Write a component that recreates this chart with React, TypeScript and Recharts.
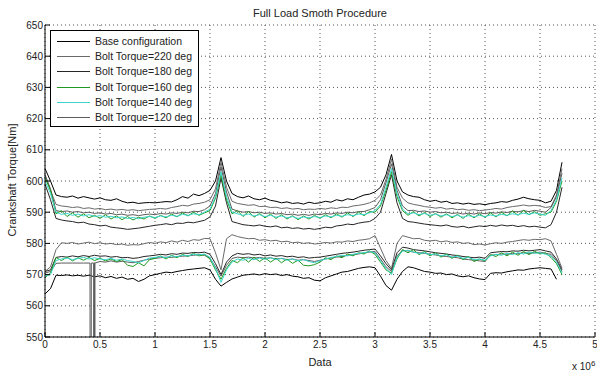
import React from 'react';
import { LineChart, Line, XAxis, YAxis, CartesianGrid } from 'recharts';

// sample positions (x 10^6)
const xs = [
  0, 0.05, 0.1, 0.15, 0.2, 0.25, 0.3, 0.35, 0.4, 0.45,
  0.5, 0.55, 0.6, 0.65, 0.7, 0.75, 0.8, 0.85, 0.9, 0.95,
  1, 1.05, 1.1, 1.15, 1.2, 1.25, 1.3, 1.35, 1.4, 1.45,
  1.5, 1.55, 1.6, 1.65, 1.7, 1.75, 1.8, 1.85, 1.9, 1.95,
  2, 2.05, 2.1, 2.15, 2.2, 2.25, 2.3, 2.35, 2.4, 2.45,
  2.5, 2.55, 2.6, 2.65, 2.7, 2.75, 2.8, 2.85, 2.9, 2.95,
  3, 3.05, 3.1, 3.15, 3.2, 3.25, 3.3, 3.35, 3.4, 3.45,
  3.5, 3.55, 3.6, 3.65, 3.7, 3.75, 3.8, 3.85, 3.9, 3.95,
  4, 4.05, 4.1, 4.15, 4.2, 4.25, 4.3, 4.35, 4.4, 4.45,
  4.5, 4.55, 4.6, 4.65, 4.7,
];

// Base configuration
const baseUpper = [
  604, 600, 595.5, 595, 594.8, 595.2, 594.5, 595, 594.6, 594.2,
  594.6, 594, 593.8, 594.3, 593.5, 593, 593.2, 592.8, 593, 593.1,
  593, 593.2, 593.4, 593.3, 594, 595, 594.5, 595.8, 595.3, 596,
  597, 600, 607.5, 600, 596, 595, 594.6, 595.2, 594.3, 594,
  594.5, 593.8, 593.5, 593, 593.3, 592.8, 593, 592.6, 593.2, 592.8,
  593, 593.5, 593.2, 594, 593.6, 594.3, 594, 594.8, 595.5, 595.8,
  596.5, 598, 602, 608.5, 600, 596.5, 595.5, 595, 594.8, 594,
  593.5, 593.8, 593.2, 593.5, 592.8, 593, 592.6, 592.9, 592.5, 592.7,
  592.4, 592.8, 593, 593.4, 593.2, 593.8, 594.2, 594.8, 594.3, 594,
  593.8, 593, 593.5, 597, 606,
];
const baseLower = [
  563.8, 565.5, 569.8, 569.7, 569.9, 569.6, 569.8, 569.5, 569.8, 569.3,
  569.6, 569, 569.4, 568.8, 569.2, 568.5, 568.8, 567.8, 568.5, 569.6,
  570, 570.4, 570.8, 570.6, 571, 571.3, 571.6, 571.8, 572, 572.2,
  571.5, 568.5, 566.3, 567.5, 568.6, 569.2, 569.8, 570, 570.2, 569.9,
  570.3, 570, 570.2, 569.7, 570, 569.5, 569.3, 568.8, 569, 568.2,
  568, 569, 569.6, 570.2, 570.8, 571, 571.5, 572, 572.3, 572.5,
  572.2, 569.5, 566.5, 565, 568.5, 571, 572.5, 572.2, 571.6, 571,
  570.8, 570.4, 570.5, 570, 570.2, 569.6, 569.3, 569.6, 569, 568.6,
  568.4, 570.4, 570.6, 570.5, 570.9, 571.2, 571.5, 571.4, 571.8, 572,
  572.2, 572, 571.8, 568.5, null,
];

// Bolt Torque=220 deg
const t220Upper = [
  602, 597, 592.5, 592, 591.8, 591.5, 591.7, 591.2, 591.4, 591,
  591.2, 590.8, 591, 590.7, 590.9, 590.6, 590.8, 590.5, 590.7, 590.9,
  591, 591.2, 591, 591.5, 591.8, 592.2, 592, 592.6, 592.8, 593.2,
  594, 597.5, 606, 598, 593.5, 592.8, 592.5, 592.2, 592.4, 591.8,
  591.9, 591.5, 591.6, 591.2, 591.4, 591, 591.2, 590.8, 591, 590.9,
  591.2, 591, 591.4, 591.2, 591.6, 591.5, 592, 592.2, 592.5, 593,
  593.8, 595.5, 600.5, 607, 598, 594.5, 593, 592.5, 592.2, 591.8,
  591.6, 591.3, 591.5, 591, 591.2, 590.8, 591, 590.6, 590.8, 590.5,
  590.7, 590.9, 591.2, 591, 591.5, 591.8, 592, 592.3, 592, 592.2,
  592, 591.5, 591.8, 595.5, 604,
];
const t220Lower = [
  571, 572.5, 578, 580.2, 580, 580.3, 579.8, 580.1, 580.4, 579.9,
  580.2, 579.8, 580, 579.6, 579.8, 579.4, 579.6, 579.5, 579.9, 580.3,
  580, 580.5, 580.2, 580.8, 580.4, 581, 580.6, 581.2, 581, 581.6,
  581.5, 577, 571.5, 581.5, 582.8, 582.2, 581.8, 581.5, 581.6, 581,
  581.2, 580.8, 581, 580.5, 580.7, 580.2, 580.4, 580, 580.2, 579.8,
  580, 580.3, 580.1, 580.5, 580.4, 580.8, 580.6, 581, 581.2, 581.5,
  582.5, 578.5, 574.5, 572, 580, 582.5, 582, 581.5, 581.6, 581,
  580.8, 581, 580.5, 580.8, 580.3, 580.5, 580, 580.2, 579.6, 579.8,
  579.5, 579.9, 580.2, 580, 580.4, 580.6, 580.9, 581.2, 581, 581.3,
  581.2, 581.5, 580.8, 576.5, 572,
];

// Bolt Torque=180 deg
const t180Upper = [
  599, 594, 588, 587.5, 587.2, 587, 586.6, 586.8, 586.2, 586,
  585.6, 585.8, 585.2, 585, 584.8, 584.5, 584.7, 584.9, 585.2, 585.5,
  585.8, 586, 586.3, 586, 586.5, 586.4, 586.8, 586.6, 587, 587.4,
  588.5, 592, 601, 593, 587, 586.5, 586, 585.8, 585.6, 585.9,
  585.5, 585.3, 585.6, 585, 585.2, 584.8, 585, 584.6, 584.8, 584.5,
  584.8, 585.2, 585, 585.6, 585.8, 586.2, 586, 586.5, 586.8, 587,
  588, 590, 596, 602, 593, 588, 587, 586.8, 586.5, 586.2,
  586, 585.8, 585.6, 585.9, 585.4, 585.2, 585.5, 585, 585.3, 585.6,
  585.4, 585.8, 585.5, 585.9, 585.6, 585.8, 585.4, 585.7, 585.3, 585.5,
  585.2, 585, 586, 590, 598,
];
const t180Lower = [
  571, 571.5, 575.5, 575.8, 575.6, 576, 575.7, 576.1, 575.8, 576.2,
  575.9, 576, 575.6, 575.8, 575.4, 575.5, 575.2, 575.4, 575.8, 576,
  576.2, 576.5, 576.3, 576.7, 576.5, 576.9, 576.8, 577.1, 577, 577.2,
  576.5, 573.5, 570, 574, 576, 576.8, 576.5, 576.7, 576.3, 576.5,
  576, 576.3, 575.9, 576.1, 575.7, 575.9, 575.5, 575.7, 575.3, 575.5,
  575.6, 575.9, 576.2, 576.5, 576.8, 577, 577.2, 577.5, 577.8, 578,
  578.2, 576, 573.5, 571.5, 577, 578.8, 578.5, 578, 577.8, 577.6,
  577.3, 577, 576.8, 576.6, 576.3, 576.1, 575.8, 575.6, 575.4, 575.6,
  575.2, 577, 577.2, 577.4, 577.3, 577.6, 577.5, 577.8, 577.6, 577.8,
  578, 577.6, 577.2, 575, 571.5,
];

// Bolt Torque=160 deg
const t160Upper = [
  601, 597, 589.5, 590.5, 588.6, 589.8, 588.4, 589.5, 588.2, 589,
  588, 589.2, 587.8, 588.8, 587.6, 588.6, 587.5, 588.4, 587.8, 588.8,
  588, 589, 588.2, 589.4, 588.5, 589.8, 588.8, 590, 589, 589.8,
  590.5, 594.5, 602, 594, 589.5, 590.5, 588.6, 590.2, 588.4, 589.6,
  588.2, 589.4, 588, 589.2, 587.8, 588.9, 587.6, 588.8, 587.8, 589,
  588, 589.2, 588.2, 589.5, 588.4, 589.8, 588.6, 590, 588.9, 590.2,
  590, 592, 597, 603, 595, 590.5, 589, 590.2, 588.8, 589.9,
  588.6, 589.6, 588.4, 589.5, 588.2, 589.3, 588, 589.4, 588.2, 589.5,
  588.3, 589.8, 588.5, 590, 588.8, 590.4, 589, 590.6, 589.2, 590.2,
  589, 589.5, 590, 593.5, 600,
];
const t160Lower = [
  569, 570.5, 575.5, 574.5, 575.6, 574.4, 575.4, 574.6, 575.5, 574.5,
  575.2, 574.4, 575, 574.2, 574.8, 573, 572.6, 573.8, 572.8, 574.8,
  575.2, 576, 575, 576.2, 575.4, 576.5, 575.8, 576.8, 576, 576.4,
  575, 571.5, 568.5, 572, 574.5, 573.8, 575.4, 574, 575.6, 574.2,
  575.4, 574, 575.2, 573.8, 575, 573.6, 574.6, 573, 572.8, 573.2,
  574, 575.4, 574.8, 576, 575.4, 576.6, 576, 577, 576.6, 577.6,
  576.5, 574, 571.5, 570.5, 575, 578, 577, 578, 576.4, 577.4,
  576, 577, 575.6, 576.6, 575.2, 576.2, 574.8, 575.8, 574.2, 575,
  574.4, 576.4, 575.8, 577, 576, 577.2, 576.2, 577.4, 576.4, 577.5,
  576.6, 577, 575.5, 573.5, 570,
];

// Bolt Torque=140 deg
const t140Upper = [
  600, 596, 590, 589.3, 589.6, 589, 589.4, 588.8, 589.2, 588.6,
  588.9, 588.4, 588.7, 588.2, 588.5, 588, 588.3, 587.9, 588.4, 588.6,
  588.3, 588.8, 588.5, 589, 588.7, 589.3, 589, 589.5, 589.2, 590,
  591, 595, 603, 595, 590, 589.5, 589, 589.4, 588.8, 589.2,
  588.6, 589, 588.4, 588.8, 588.2, 588.6, 588, 588.5, 588.2, 588.6,
  588.3, 588.8, 588.5, 589, 588.7, 589.2, 588.9, 589.4, 589.2, 589.8,
  590.5, 592.5, 598, 604, 596, 591, 589.5, 589.8, 589.2, 589.6,
  589, 589.4, 588.8, 589.2, 588.6, 589, 588.4, 588.9, 588.5, 589,
  588.6, 589.1, 588.8, 589.3, 589, 589.5, 589.2, 589.7, 589.3, 589.8,
  589.4, 589, 590.5, 594, 601,
];
const t140Lower = [
  569.5, 570, 574.5, 575, 575.3, 574.8, 575.2, 575.5, 575, 575.4,
  575, 574.8, 575.2, 574.6, 575, 574.5, 574.2, 573.8, 574.5, 575.3,
  575.5, 575.8, 575.4, 576, 575.7, 576.2, 576, 576.5, 576.3, 576.6,
  575.5, 572, 567.5, 571.5, 574, 575, 574.6, 575.2, 574.8, 575.3,
  574.9, 575.4, 574.8, 575.2, 574.6, 575, 574.4, 574.8, 574.2, 573.8,
  574.5, 575, 575.5, 575.8, 576.2, 576, 576.5, 576.8, 577, 577.4,
  577, 574.5, 572, 570, 575.5, 577.5, 577.8, 577.2, 576.8, 577,
  576.4, 576.6, 576, 576.3, 575.6, 575.9, 575.2, 575.5, 574.8, 575,
  574.6, 576, 576.5, 576.2, 576.8, 576.4, 577, 576.6, 577.2, 576.8,
  577, 576.5, 576, 574, 570.5,
];

// Bolt Torque=120 deg
const t120Upper = [
  602, 597.5, 590.5, 590.2, 590.4, 590, 590.2, 589.8, 590, 589.6,
  589.8, 589.4, 589.6, 589.2, 589.4, 589, 589.2, 588.9, 589.2, 589.4,
  589.2, 589.6, 589.4, 589.8, 589.6, 590, 589.8, 590.3, 590.2, 590.8,
  592, 596, 604.5, 596.5, 591, 590.4, 590, 590.2, 589.8, 590,
  589.6, 589.8, 589.4, 589.6, 589.2, 589.4, 589, 589.3, 589, 589.4,
  589.2, 589.6, 589.4, 589.8, 589.6, 590, 589.8, 590.2, 590.2, 590.8,
  591.5, 594, 599.5, 605.5, 597, 592, 590.5, 590.6, 590.2, 590.4,
  590, 590.2, 589.8, 590, 589.6, 589.8, 589.4, 589.7, 589.4, 589.8,
  589.5, 589.9, 589.7, 590.1, 589.9, 590.3, 590.1, 590.5, 590.2, 590.6,
  590.3, 590, 591.5, 595, 602.5,
];
const t120Lower = [
  570.5, 571, 573.6, 573.7, 573.7, 573.7, 573.7, 573.7, 573.7, 573.8,
  574.2, 574, 574.4, 574, 574.3, 574, 573.8, 574.2, 574.6, 575,
  575.2, 575.4, 575.6, 575.5, 575.8, 575.9, 576, 576.2, 576.4, 576.2,
  575.2, 572.5, 569.5, 573, 575.2, 575.6, 575.4, 575.6, 575.3, 575.5,
  575.2, 575.4, 575, 575.2, 574.8, 575, 574.6, 574.8, 574.5, 574.2,
  574.6, 575, 575.3, 575.6, 575.8, 576.2, 576.4, 576.6, 577, 577.2,
  577.4, 575, 572.5, 571, 576, 577.8, 577.6, 577.2, 577, 576.8,
  576.5, 576.3, 576, 575.8, 575.6, 575.4, 575, 574.8, 574.6, 574.4,
  574.2, 576.2, 576.4, 576.6, 576.5, 576.8, 576.7, 577, 576.8, 577,
  577.2, 576.8, 576.5, 574.5, 571,
];
// short glitches of the 120 deg lower trace
const dropX = [0.409, 0.41, 0.42, 0.421, 0.442, 0.443, 0.453, 0.454];
const dropY = [573.7, 530, 530, 573.7, 573.7, 530, 530, 573.7];

const xTicks = [0, 0.5, 1, 1.5, 2, 2.5, 3, 3.5, 4, 4.5, 5];
const yTicks = [550, 560, 570, 580, 590, 600, 610, 620, 630, 640, 650];

const names = [
  'Base configuration',
  'Bolt Torque=220 deg',
  'Bolt Torque=180 deg',
  'Bolt Torque=160 deg',
  'Bolt Torque=140 deg',
  'Bolt Torque=120 deg',
];
const colors = ['#000000', '#6a6a6a', '#262626', '#1f9a1f', '#3ad6cc', '#5c5c5c'];

const toPts = (vals: (number | null)[]) => xs.map((x, i) => ({ x, y: vals[i] }));

const t120LowerPts = [...toPts(t120Lower), ...dropX.map((x, i) => ({ x, y: dropY[i] }))].sort(
  (a, b) => a.x - b.x
);

const traces = [
  { key: 'bu', color: colors[0], data: toPts(baseUpper) },
  { key: 'bl', color: colors[0], data: toPts(baseLower) },
  { key: 'u220', color: colors[1], data: toPts(t220Upper) },
  { key: 'l220', color: colors[1], data: toPts(t220Lower) },
  { key: 'u180', color: colors[2], data: toPts(t180Upper) },
  { key: 'l180', color: colors[2], data: toPts(t180Lower) },
  { key: 'u120', color: colors[5], data: toPts(t120Upper) },
  { key: 'l120', color: colors[5], data: t120LowerPts },
  { key: 'u160', color: colors[3], data: toPts(t160Upper) },
  { key: 'l160', color: colors[3], data: toPts(t160Lower) },
  { key: 'u140', color: colors[4], data: toPts(t140Upper) },
  { key: 'l140', color: colors[4], data: toPts(t140Lower) },
];

const font = '"Liberation Sans", Arial, sans-serif';
const tickStyle = { fontSize: 10, fill: '#222', fontFamily: font };
const blank = () => '';

export default function App() {
  return (
    <div
      style={{
        position: 'absolute',
        left: 0,
        top: 0,
        width: 597,
        height: 372,
        background: '#fff',
        fontFamily: font,
        color: '#222',
        overflow: 'hidden',
      }}
    >
      <LineChart width={597} height={372} margin={{ top: 25, right: 2, bottom: 0, left: 0 }}>
        <CartesianGrid stroke="#555" strokeDasharray="1 3" />
        <XAxis
          dataKey="x"
          type="number"
          domain={[0, 5]}
          ticks={xTicks}
          interval={0}
          height={35}
          tickSize={-5}
          tickMargin={9}
          stroke="#000"
          tick={tickStyle}
          tickFormatter={(v: number) => String(v)}
        />
        <XAxis
          xAxisId="top"
          orientation="top"
          dataKey="x"
          type="number"
          domain={[0, 5]}
          ticks={xTicks}
          interval={0}
          height={0}
          tickSize={-5}
          stroke="#000"
          tickFormatter={blank}
        />
        <YAxis
          type="number"
          domain={[550, 650]}
          ticks={yTicks}
          interval={0}
          width={45}
          tickSize={-5}
          tickMargin={7}
          allowDataOverflow
          stroke="#000"
          tick={tickStyle}
        />
        <YAxis
          yAxisId="right"
          orientation="right"
          type="number"
          domain={[550, 650]}
          ticks={yTicks}
          interval={0}
          width={0}
          tickSize={-5}
          stroke="#000"
          tickFormatter={blank}
        />
        {traces.map((t) => (
          <Line
            key={t.key}
            data={t.data}
            dataKey="y"
            type="linear"
            stroke={t.color}
            strokeWidth={1}
            dot={false}
            activeDot={false}
            isAnimationActive={false}
            connectNulls={false}
          />
        ))}
      </LineChart>

      <div style={{ position: 'absolute', left: 220, top: 7, width: 200, textAlign: 'center', fontSize: 11 }}>
        Full Load Smoth Procedure
      </div>
      <div
        style={{
          position: 'absolute',
          left: 12,
          top: 180,
          transform: 'translate(-50%, -50%) rotate(-90deg)',
          whiteSpace: 'nowrap',
          fontSize: 11,
        }}
      >
        Crankshaft Torque[Nm]
      </div>
      <div style={{ position: 'absolute', left: 280, top: 356, width: 80, textAlign: 'center', fontSize: 11 }}>
        Data
      </div>
      <div style={{ position: 'absolute', left: 572, top: 359, fontSize: 10, whiteSpace: 'nowrap' }}>
        x 10<sup style={{ fontSize: 8 }}>6</sup>
      </div>

      <div
        style={{
          position: 'absolute',
          left: 50,
          top: 30,
          width: 147,
          height: 95,
          border: '1px solid #000',
          background: '#fff',
        }}
      >
        {names.map((n, i) => (
          <div
            key={n}
            style={{
              position: 'absolute',
              left: 6,
              top: Math.round(3 + i * 15.2),
              height: 14,
              display: 'flex',
              alignItems: 'center',
              whiteSpace: 'nowrap',
              fontSize: 10.5,
            }}
          >
            <span
              style={{
                display: 'inline-block',
                width: 33,
                height: 1,
                background: colors[i],
                marginRight: 5,
              }}
            />
            {n}
          </div>
        ))}
      </div>
    </div>
  );
}
